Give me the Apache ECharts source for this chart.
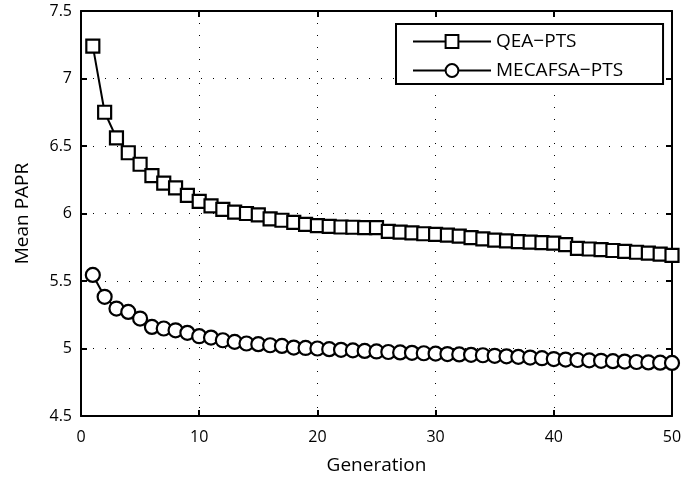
<!DOCTYPE html>
<html><head><meta charset="utf-8">
<script src="https://cdn.jsdelivr.net/npm/echarts@6/dist/echarts.min.js"></script>
<style>html,body{margin:0;padding:0;background:#fff}#c{width:699px;height:477px}</style>
</head><body><div id="c"></div>
<script>
const generations = [1,2,3,4,5,6,7,8,9,10,11,12,13,14,15,16,17,18,19,20,21,22,23,24,25,26,27,28,29,30,31,32,33,34,35,36,37,38,39,40,41,42,43,44,45,46,47,48,49,50];
const qeaPts = [7.24,6.75,6.56,6.45,6.365,6.28,6.225,6.19,6.135,6.09,6.056,6.03,6.01,6.0,5.99,5.96,5.95,5.935,5.92,5.91,5.905,5.9,5.898,5.896,5.895,5.868,5.862,5.856,5.85,5.845,5.84,5.832,5.822,5.812,5.803,5.797,5.792,5.788,5.784,5.78,5.77,5.742,5.737,5.732,5.726,5.72,5.713,5.706,5.699,5.69];
const mecafsaPts = [5.545,5.383,5.296,5.271,5.222,5.16,5.148,5.135,5.116,5.091,5.081,5.061,5.049,5.037,5.032,5.024,5.019,5.007,5.004,5.0,4.995,4.99,4.986,4.982,4.978,4.974,4.971,4.968,4.965,4.962,4.959,4.956,4.953,4.95,4.946,4.942,4.938,4.933,4.928,4.922,4.918,4.915,4.912,4.909,4.906,4.903,4.9,4.897,4.895,4.893];
const seriesNames = ['QEA\u2212PTS','MECAFSA\u2212PTS'];

const font = '"Open Sans", "Liberation Sans", Arial, sans-serif';
const chart = echarts.init(document.getElementById('c'), null, {renderer:'canvas'});
const axisLineStyle = {color:'#000', width:2};
const grid = {type:[1,11], color:'#000', width:1};
const xCommon = {type:'value', min:0, max:50, interval:10,
  axisLine:{show:true, onZero:false, lineStyle:axisLineStyle},
  axisTick:{show:true, inside:true, length:6, lineStyle:{color:'#000', width:2}}};
const yCommon = {type:'value', min:4.5, max:7.5, interval:0.5,
  axisLine:{show:true, onZero:false, lineStyle:axisLineStyle},
  axisTick:{show:true, inside:true, length:6, lineStyle:{color:'#000', width:2}}};
chart.setOption({
  animation:false,
  backgroundColor:'#fff',
  grid:{left:81, right:27, top:11, bottom:61, outerBoundsMode:'none', containLabel:false},
  xAxis:[
    Object.assign({}, xCommon, {position:'bottom', name:'Generation', nameLocation:'middle', nameGap:40,
      nameTextStyle:{fontFamily:font, fontSize:19, color:'#000'},
      axisLabel:{fontFamily:font, fontSize:16, color:'#000', margin:13},
      splitLine:{show:true, lineStyle:grid}}),
    Object.assign({}, xCommon, {position:'top', axisLabel:{show:false}, splitLine:{show:false}})
  ],
  yAxis:[
    Object.assign({}, yCommon, {position:'left', name:'Mean PAPR', nameLocation:'middle', nameGap:49, nameRotate:90,
      nameTextStyle:{fontFamily:font, fontSize:19, color:'#000'},
      axisLabel:{fontFamily:font, fontSize:16, color:'#000', margin:9, formatter:v=>String(v)},
      splitLine:{show:true, lineStyle:grid}}),
    Object.assign({}, yCommon, {position:'right', axisLabel:{show:false}, splitLine:{show:false}})
  ],
  legend:{
    orient:'vertical', left:396, top:24,
    padding:[8,40,4,16], itemGap:10, itemWidth:78, itemHeight:16,
    backgroundColor:'#fff', borderColor:'#000', borderWidth:2,
    textStyle:{fontFamily:font, fontSize:19, color:'#000'},
    lineStyle:{width:2, color:'#000'},
    itemStyle:{borderWidth:2, borderColor:'#000', color:'#fff'},
    data:seriesNames
  },
  series:[
    {name:seriesNames[0], type:'line', data:generations.map((g,i)=>[g,qeaPts[i]]),
      symbol:'rect', symbolSize:13, showAllSymbol:true,
      lineStyle:{color:'#000', width:2}, itemStyle:{color:'#fff', borderColor:'#000', borderWidth:2.2}},
    {name:seriesNames[1], type:'line', data:generations.map((g,i)=>[g,mecafsaPts[i]]),
      symbol:'circle', symbolSize:14, showAllSymbol:true,
      lineStyle:{color:'#000', width:2}, itemStyle:{color:'#fff', borderColor:'#000', borderWidth:2.2}}
  ]
});
</script></body></html>
